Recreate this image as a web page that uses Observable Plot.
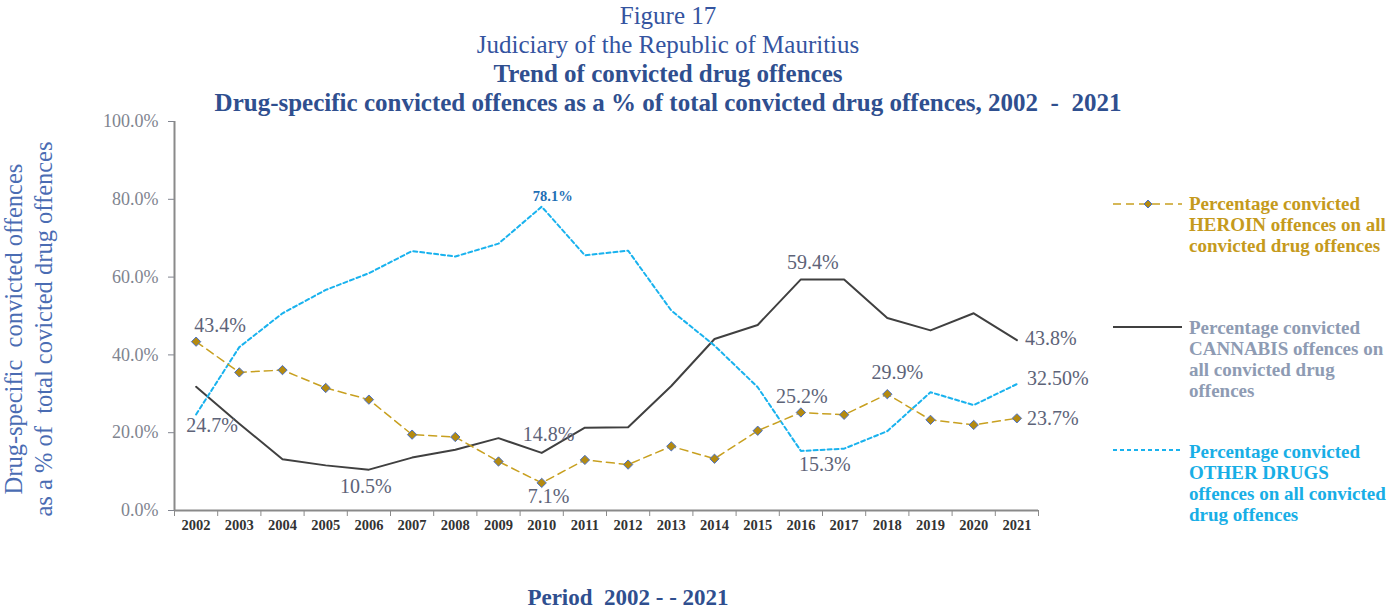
<!DOCTYPE html>
<html>
<head>
<meta charset="utf-8">
<script src="https://cdn.jsdelivr.net/npm/d3@7"></script>
<script src="https://cdn.jsdelivr.net/npm/@observablehq/plot@0.6"></script>
<style>
  body { margin: 0; background: #fff; }
  #wrap { position: relative; width: 1389px; height: 610px; overflow: hidden; font-family: "Liberation Serif", "DejaVu Serif", serif; }
  #title { position: absolute; left: 0; top: 1px; width: 1336px; text-align: center; font-size: 25px; line-height: 29px; color: #3454a0; }
  #title .b { font-weight: bold; color: #2f4f8f; }
  #chart { position: absolute; left: 0; top: 110px; }
  #ylab { position: absolute; left: 29px; top: 329px; transform: translate(-50%, -50%) rotate(-90deg); white-space: nowrap; text-align: center; font-size: 24.5px; line-height: 30px; color: #4a6cb3; }
  #xlab { position: absolute; left: 628px; top: 598px; transform: translate(-50%, -50%); white-space: nowrap; font-size: 23px; font-weight: bold; color: #2f4f8f; }
  .leg { position: absolute; left: 1189px; font-size: 19px; font-weight: bold; line-height: 21px; white-space: nowrap; }
  .sym { position: absolute; left: 1110px; }
</style>
</head>
<body>
<div id="wrap">
  <div id="title">
    <div>Figure 17</div>
    <div>Judiciary of the Republic of Mauritius</div>
    <div class="b">Trend of convicted drug offences</div>
    <div class="b">Drug-specific convicted offences as a % of total convicted drug offences, 2002&nbsp; -&nbsp; 2021</div>
  </div>
  <div id="chart"></div>
  <div id="ylab">Drug-specific&nbsp; convicted offences<br>as a % of&nbsp; total covicted drug offences</div>
  <div id="xlab">Period&nbsp; 2002 - - 2021</div>

  <svg class="sym" style="top:194px" width="75" height="20"><line x1="3" y1="10" x2="72" y2="10" stroke="#c8a020" stroke-width="1.5" stroke-dasharray="8,5"/><path d="M38,6 L42,10 L38,14 L34,10 Z" fill="#b48a10" stroke="#4a72c8" stroke-width="1"/></svg>
  <div class="leg" style="top:192.5px; color:#c59a1c">Percentage convicted<br>HEROIN offences on all<br>convicted drug offences</div>

  <svg class="sym" style="top:317px" width="75" height="20"><line x1="3" y1="10" x2="72" y2="10" stroke="#404040" stroke-width="2"/></svg>
  <div class="leg" style="top:316.5px; color:#8e9bb3">Percentage convicted<br>CANNABIS offences on<br>all convicted drug<br>offences</div>

  <svg class="sym" style="top:440px" width="75" height="20"><line x1="3" y1="10" x2="72" y2="10" stroke="#19b2ee" stroke-width="2" stroke-dasharray="4,3"/></svg>
  <div class="leg" style="top:440.5px; color:#18aee6">Percentage convicted<br>OTHER DRUGS<br>offences on all convicted<br>drug offences</div>
</div>
<script>
// ---- data ----
const years = [2002, 2003, 2004, 2005, 2006, 2007, 2008, 2009, 2010, 2011, 2012, 2013, 2014, 2015, 2016, 2017, 2018, 2019, 2020, 2021];
const heroin = [43.4, 35.5, 36.1, 31.5, 28.5, 19.5, 18.9, 12.6, 7.1, 13.0, 11.8, 16.5, 13.3, 20.5, 25.2, 24.6, 29.9, 23.3, 22.0, 23.7];
const cannabis = [31.8, 22.3, 13.2, 11.6, 10.5, 13.6, 15.6, 18.6, 14.8, 21.3, 21.4, 32.0, 44.1, 47.7, 59.4, 59.4, 49.5, 46.3, 50.7, 43.8];
const otherDrugs = [24.7, 42.0, 50.7, 56.7, 61.0, 66.7, 65.3, 68.6, 78.1, 65.6, 66.8, 51.4, 42.4, 31.7, 15.3, 15.9, 20.4, 30.4, 27.1, 32.5];
const yTicks = [0, 20, 40, 60, 80, 100];
// labelled points: series, year, label text as printed
const labelSeries = ["heroin", "other", "cannabis", "cannabis", "heroin", "other", "cannabis", "heroin", "other", "heroin", "cannabis", "other", "heroin"];
const labelYears = [2002, 2002, 2006, 2010, 2010, 2010, 2016, 2016, 2016, 2018, 2021, 2021, 2021];
const labelTexts = ["43.4%", "24.7%", "10.5%", "14.8%", "7.1%", "78.1%", "59.4%", "25.2%", "15.3%", "29.9%", "43.8%", "32.50%", "23.7%"];

// ---- build ----
const seriesMap = {heroin, cannabis, other: otherDrugs};
const rows = s => years.map((yr, i) => ({year: yr, value: seriesMap[s][i]}));
const boundaries = d3.range(2001.5, 2022.5, 1);

// label styling (offsets in px)
const labelStyle = [
  {dx: 24, dy: -16}, {dx: 16, dy: 11}, {dx: -3, dy: 17}, {dx: 7, dy: -18},
  {dx: 7, dy: 14}, {dx: 11, dy: -10, small: true}, {dx: 12, dy: -17}, {dx: 1, dy: -16},
  {dx: 24, dy: 14}, {dx: 10, dy: -22}, {dx: 8, dy: -2, anchor: "start"},
  {dx: 10, dy: -5, anchor: "start"}, {dx: 10, dy: 0, anchor: "start"}
];
const labelMarks = labelSeries.map((s, i) => {
  const idx = years.indexOf(labelYears[i]);
  const st = labelStyle[i];
  return Plot.text([{year: labelYears[i], value: seriesMap[s][idx], t: labelTexts[i]}], {
    x: "year", y: "value", text: "t", dx: st.dx, dy: st.dy,
    textAnchor: st.anchor || "middle",
    fontSize: st.small ? 14.5 : 20,
    fontWeight: st.small ? "bold" : "normal",
    fill: st.small ? "#1f6fb5" : "#5d6378",
    fontFamily: "Liberation Serif"
  });
});

const chart = Plot.plot({
  width: 1389,
  height: 430,
  marginTop: 11,
  marginBottom: 30,
  marginLeft: 174,
  marginRight: 351,
  style: {background: "transparent", fontFamily: "Liberation Serif"},
  x: {domain: [2001.5, 2021.5]},
  y: {domain: [0, 100]},
  marks: [
    Plot.axisY({ticks: yTicks, tickFormat: d => d.toFixed(1) + "%", tickSize: 6, tickPadding: 10, fontSize: 18, color: "#80848f", label: null}),
    Plot.axisX({ticks: boundaries, tickSize: 6, tickFormat: () => "", color: "#8a8a8a", label: null}),
    Plot.axisX({ticks: years, tickSize: 0, tickPadding: 9, tickFormat: d => String(d), fontSize: 14.5, fontWeight: "bold", color: "#333", label: null}),
    Plot.ruleX([2001.5], {stroke: "#8a8a8a", strokeWidth: 2}),
    Plot.ruleY([0], {stroke: "#8a8a8a", strokeWidth: 2}),
    Plot.line(rows("cannabis"), {x: "year", y: "value", stroke: "#404040", strokeWidth: 2}),
    Plot.line(rows("other"), {x: "year", y: "value", stroke: "#19b2ee", strokeWidth: 2, strokeDasharray: "4,3"}),
    Plot.line(rows("heroin"), {x: "year", y: "value", stroke: "#c8a020", strokeWidth: 1.5, strokeDasharray: "8,5"}),
    Plot.dot(rows("heroin"), {x: "year", y: "value", symbol: "diamond2", r: 4.2, fill: "#b48a10", stroke: "#4a72c8", strokeWidth: 1}),
    ...labelMarks
  ]
});
document.getElementById("chart").appendChild(chart);
</script>
</body>
</html>
